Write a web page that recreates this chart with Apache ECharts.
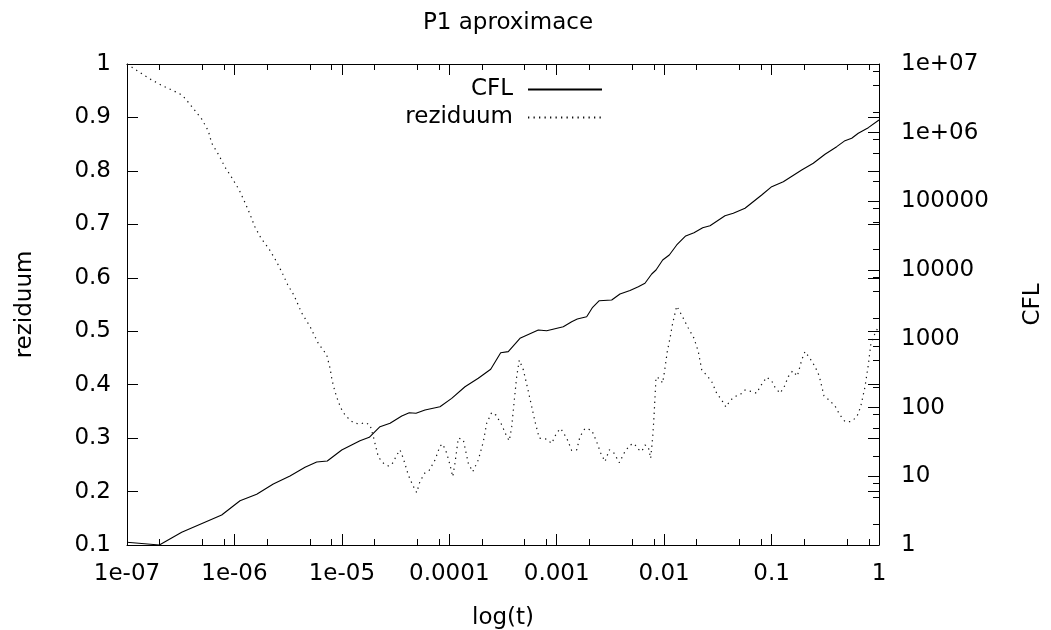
<!DOCTYPE html>
<html>
<head>
<meta charset="utf-8">
<script src="https://cdn.jsdelivr.net/npm/echarts@6/dist/echarts.min.js"></script>
<style>
  html, body { margin: 0; padding: 0; background: #fff; }
  #main { width: 1051px; height: 630px; }
</style>
</head>
<body>
<div id="main"></div>
<script>
// time values (log axis) and CFL number (right log axis)
const cflT = [1e-7, 2.0e-7, 3.23e-7, 7.61e-7, 1.127e-6, 1.612e-6, 2.30e-6, 3.29e-6, 4.54e-6, 5.83e-6,
  7.32e-6, 9.97e-6, 1.475e-5, 1.80e-5, 2.265e-5, 2.81e-5, 3.61e-5, 4.24e-5, 4.90e-5, 5.94e-5,
  8.19e-5, 1.053e-4, 1.40e-4, 1.862e-4, 2.43e-4, 3.01e-4, 3.54e-4, 4.55e-4, 6.74e-4, 8.07e-4,
  1.151e-3, 1.378e-3, 1.554e-3, 1.90e-3, 2.16e-3, 2.49e-3, 3.25e-3, 3.88e-3, 4.81e-3, 5.75e-3,
  6.63e-3, 7.66e-3, 8.40e-3, 9.69e-3, 1.117e-2, 1.309e-2, 1.587e-2, 1.896e-2, 2.285e-2, 2.672e-2,
  3.685e-2, 4.40e-2, 5.66e-2, 8.09e-2, 0.1003, 0.1286, 0.1907, 0.2445, 0.3144, 0.404,
  0.4826, 0.557, 0.6415, 0.795, 1];
const cflV = [1.095, 1.0, 1.53, 2.73, 4.41, 5.47, 7.72, 10.1, 13.5, 16.1,
  16.7, 24.1, 33.0, 36.9, 52.7, 59.0, 75.4, 84.2, 82.6, 92.2,
  103, 136, 201, 267, 361, 629, 651, 1019, 1346, 1315,
  1503, 1778, 1946, 2102, 2881, 3594, 3679, 4498, 5058, 5745,
  6440, 8793, 10050, 14060, 16620, 23240, 31420, 35100, 41500, 44370,
  62020, 67230, 79500, 124100, 163900, 193800, 286900, 359200, 485600, 626500,
  765900, 830000, 981300, 1184000, 1532000];

// residual (left linear axis)
const rezT = [1e-7, 1.274e-7, 1.637e-7, 2.104e-7, 2.698e-7, 3.114e-7, 3.467e-7, 4.14e-7, 4.96e-7, 5.71e-7,
  6.14e-7, 7.14e-7, 8.17e-7, 9.55e-7, 1.11e-6, 1.246e-6, 1.396e-6, 1.544e-6, 1.768e-6, 2.098e-6,
  2.438e-6, 2.773e-6, 3.132e-6, 3.585e-6, 4.23e-6, 5.05e-6, 6.04e-6, 7.22e-6, 7.76e-6, 8.09e-6,
  8.63e-6, 9.27e-6, 1.018e-5, 1.148e-5, 1.278e-5, 1.453e-5, 1.642e-5, 1.828e-5, 1.962e-5, 2.184e-5,
  2.40e-5, 2.706e-5, 2.91e-5, 3.24e-5, 3.477e-5, 3.733e-5, 4.155e-5, 4.565e-5, 4.973e-5, 5.338e-5,
  5.94e-5, 6.516e-5, 7.362e-5, 8.195e-5, 8.68e-5, 9.46e-5, 1.015e-4, 1.076e-4, 1.13e-4, 1.213e-4,
  1.35e-4, 1.503e-4, 1.652e-4, 1.862e-4, 2.073e-4, 2.23e-4, 2.482e-4, 2.722e-4, 3.075e-4, 3.423e-4,
  3.619e-4, 3.81e-4, 4.002e-4, 4.24e-4, 4.484e-4, 4.885e-4, 5.322e-4, 5.85e-4, 6.278e-4, 6.88e-4,
  8.07e-4, 8.98e-4, 9.995e-4, 1.089e-3, 1.239e-3, 1.378e-3, 1.535e-3, 1.647e-3, 1.834e-3, 2.117e-3,
  2.357e-3, 2.568e-3, 2.815e-3, 3.087e-3, 3.414e-3, 3.824e-3, 4.32e-3, 4.81e-3, 5.24e-3, 5.745e-3,
  6.18e-3, 6.63e-3, 7.12e-3, 7.49e-3, 7.83e-3, 8.05e-3, 8.40e-3, 9.01e-3, 9.69e-3, 1.018e-2,
  1.07e-2, 1.134e-2, 1.201e-2, 1.309e-2, 1.457e-2, 1.678e-2, 1.896e-2, 2.079e-2, 2.236e-2, 2.522e-2,
  2.771e-2, 3.084e-2, 3.434e-2, 3.766e-2, 4.10e-2, 4.566e-2, 5.083e-2, 5.66e-2, 6.53e-2, 7.27e-2,
  7.80e-2, 9.01e-2, 0.1003, 0.1076, 0.1198, 0.1305, 0.1431, 0.1573, 0.1736, 0.1907,
  0.2047, 0.2278, 0.2537, 0.2781, 0.3076, 0.3446, 0.3894, 0.4335, 0.4826, 0.5453,
  0.6198, 0.6757, 0.7408, 0.795, 0.8369, 0.9177, 1];
const rezV = [1.0, 0.986, 0.972, 0.960, 0.950, 0.944, 0.936, 0.917, 0.897, 0.875,
  0.852, 0.830, 0.807, 0.786, 0.764, 0.742, 0.719, 0.696, 0.674, 0.654,
  0.632, 0.610, 0.587, 0.567, 0.534, 0.509, 0.477, 0.456, 0.431, 0.409,
  0.387, 0.368, 0.349, 0.337, 0.329, 0.326, 0.329, 0.325, 0.303, 0.265,
  0.254, 0.248, 0.250, 0.268, 0.278, 0.262, 0.231, 0.212, 0.198, 0.219,
  0.235, 0.240, 0.259, 0.285, 0.289, 0.272, 0.250, 0.228, 0.253, 0.300,
  0.297, 0.253, 0.237, 0.259, 0.293, 0.328, 0.348, 0.343, 0.325, 0.303,
  0.295, 0.321, 0.365, 0.415, 0.446, 0.428, 0.396, 0.359, 0.331, 0.300,
  0.298, 0.290, 0.310, 0.318, 0.300, 0.277, 0.278, 0.303, 0.318, 0.315,
  0.293, 0.272, 0.256, 0.278, 0.272, 0.254, 0.275, 0.287, 0.290, 0.279,
  0.275, 0.287, 0.284, 0.262, 0.303, 0.340, 0.414, 0.412, 0.403, 0.431,
  0.462, 0.487, 0.515, 0.547, 0.530, 0.506, 0.487, 0.462, 0.428, 0.416,
  0.406, 0.384, 0.371, 0.358, 0.370, 0.378, 0.381, 0.390, 0.387, 0.384,
  0.396, 0.414, 0.407, 0.395, 0.384, 0.395, 0.415, 0.426, 0.416, 0.446,
  0.462, 0.449, 0.434, 0.416, 0.379, 0.371, 0.360, 0.343, 0.331, 0.331,
  0.339, 0.359, 0.396, 0.437, 0.474, 0.496, 0.510];

// tick labels
const xTickLabels = ['1e-07', '1e-06', '1e-05', '0.0001', '0.001', '0.01', '0.1', '1'];
const y2TickLabels = ['1', '10', '100', '1000', '10000', '100000', '1e+06', '1e+07'];
// minor ticks (gnuplot style: 2, 5, 8 in each decade)
const xMinorTicks = [2e-7, 5e-7, 8e-7, 2e-6, 5e-6, 8e-6, 2e-5, 5e-5, 8e-5, 2e-4, 5e-4, 8e-4,
  2e-3, 5e-3, 8e-3, 2e-2, 5e-2, 8e-2, 0.2, 0.5, 0.8];
const y2MinorTicks = [2, 5, 8, 20, 50, 80, 200, 500, 800, 2000, 5000, 8000, 2e4, 5e4, 8e4,
  2e5, 5e5, 8e5, 2e6, 5e6, 8e6];

const FONT = 'DejaVu Sans';
const FS = 23;
const black = '#000';

const chart = echarts.init(document.getElementById('main'), null, { renderer: 'canvas' });

const tickStyle = { show: true, inside: true, length: 11, lineStyle: { color: black, width: 1 } };
const labelStyle = { color: black, fontFamily: FONT, fontSize: FS };

const legendBase = {
  orient: 'vertical',
  align: 'right',
  right: 443,
  itemWidth: 74,
  itemHeight: 14,
  selectedMode: false,
  // hide the symbol drawn in the middle of the line sample
  itemStyle: { opacity: 0 },
  textStyle: { color: black, fontFamily: FONT, fontSize: FS, padding: [0, 10, 0, 0] }
};

chart.setOption({
  backgroundColor: '#fff',
  animation: false,
  title: {
    text: 'P1 aproximace',
    left: 503,
    textAlign: 'center',
    top: 7,
    textStyle: { color: black, fontFamily: FONT, fontSize: FS, fontWeight: 'normal' }
  },
  legend: [
    Object.assign({}, legendBase, { data: ['CFL'], top: 73 }),
    Object.assign({}, legendBase, { data: ['reziduum'], top: 101 })
  ],
  grid: { left: 127, right: 172, top: 64, bottom: 85, containLabel: false, outerBoundsMode: 'none' },
  xAxis: [
    {
      type: 'log', logBase: 10, min: 1e-7, max: 1, position: 'bottom',
      name: 'log(t)', nameLocation: 'middle', nameGap: 62,
      nameTextStyle: labelStyle,
      axisLine: { show: true, lineStyle: { color: black, width: 1 } },
      axisTick: tickStyle,
      axisLabel: Object.assign({}, labelStyle, {
        margin: 18,
        formatter: v => xTickLabels[Math.round(Math.log10(v)) + 7]
      }),
      splitLine: { show: false }
    },
    {
      type: 'log', logBase: 10, min: 1e-7, max: 1, position: 'top',
      axisLine: { show: true, lineStyle: { color: black, width: 1 } },
      axisTick: tickStyle,
      axisLabel: { show: false },
      splitLine: { show: false }
    }
  ],
  yAxis: [
    {
      type: 'value', min: 0.1, max: 1, interval: 0.1, position: 'left',
      name: 'reziduum', nameLocation: 'middle', nameGap: 90,
      nameTextStyle: labelStyle,
      axisLine: { show: true, lineStyle: { color: black, width: 1 } },
      axisTick: tickStyle,
      axisLabel: Object.assign({}, labelStyle, {
        margin: 16,
        formatter: v => String(+v.toFixed(1))
      }),
      splitLine: { show: false }
    },
    {
      type: 'log', logBase: 10, min: 1, max: 1e7, position: 'right',
      name: 'CFL', nameLocation: 'middle', nameGap: 143,
      nameTextStyle: labelStyle,
      axisLine: { show: true, lineStyle: { color: black, width: 1 } },
      axisTick: tickStyle,
      axisLabel: Object.assign({}, labelStyle, {
        margin: 22,
        formatter: v => y2TickLabels[Math.round(Math.log10(v))]
      }),
      splitLine: { show: false }
    },
    {
      // mirrored ticks of the left axis on the right border
      type: 'value', min: 0.1, max: 1, interval: 0.1, position: 'right',
      axisLine: { show: false },
      axisTick: tickStyle,
      axisLabel: { show: false },
      splitLine: { show: false }
    }
  ],
  series: [
    {
      name: 'CFL',
      type: 'line',
      xAxisIndex: 0,
      yAxisIndex: 1,
      symbol: 'none',
      data: cflT.map((t, i) => [t, cflV[i]]),
      lineStyle: { color: black, width: 1.1, type: 'solid' },
      itemStyle: { color: black },
      clip: true
    },
    {
      name: 'reziduum',
      type: 'line',
      xAxisIndex: 0,
      yAxisIndex: 0,
      symbol: 'none',
      data: rezT.map((t, i) => [t, rezV[i]]),
      lineStyle: { color: '#111', width: 1.2, type: [1.3, 4.2] },
      itemStyle: { color: '#111' },
      clip: true
    },
    {
      name: 'xMinor',
      type: 'custom',
      xAxisIndex: 0,
      yAxisIndex: 0,
      silent: true,
      clip: false,
      data: xMinorTicks.map(v => [v, 0.5]),
      renderItem: function (params, api) {
        const cs = params.coordSys;
        const x = Math.round(api.coord([api.value(0), 0.5])[0]) + 0.5;
        const yb = cs.y + cs.height;
        return {
          type: 'group',
          children: [
            { type: 'line', shape: { x1: x, y1: yb, x2: x, y2: yb - 6 }, style: { stroke: black, lineWidth: 1 } },
            { type: 'line', shape: { x1: x, y1: cs.y, x2: x, y2: cs.y + 6 }, style: { stroke: black, lineWidth: 1 } }
          ]
        };
      }
    },
    {
      name: 'y2Minor',
      type: 'custom',
      xAxisIndex: 0,
      yAxisIndex: 1,
      silent: true,
      clip: false,
      data: y2MinorTicks.map(v => [1e-3, v]),
      renderItem: function (params, api) {
        const cs = params.coordSys;
        const y = Math.round(api.coord([1e-3, api.value(1)])[1]) + 0.5;
        const xr = cs.x + cs.width;
        return {
          type: 'line',
          shape: { x1: xr - 6, y1: y, x2: xr, y2: y },
          style: { stroke: black, lineWidth: 1 }
        };
      }
    }
  ]
});
</script>
</body>
</html>
